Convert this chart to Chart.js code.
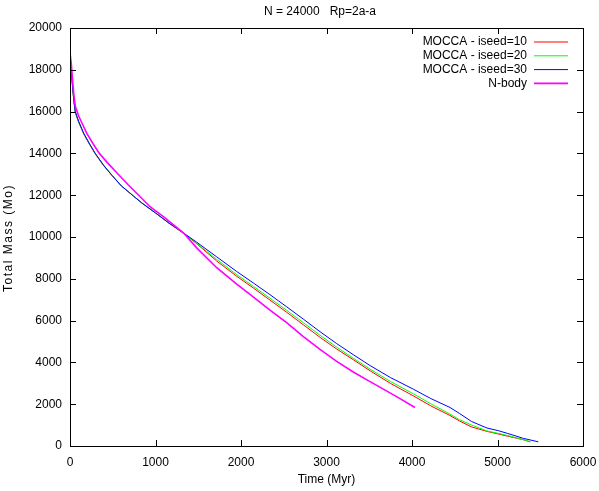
<!DOCTYPE html>
<html>
<head>
<meta charset="utf-8">
<script src="https://cdn.jsdelivr.net/npm/chart.js@4.4.0/dist/chart.umd.min.js"></script>
<style>
	html, body { margin: 0; padding: 0; background: #fff; }
</style>
</head>
<body>
<canvas id="myChart" width="599" height="491"></canvas>
<script>
// Dades llegides del gràfic (temps en Myr, massa total en Mo)
let temps10 = [0, 15, 30, 45, 62, 100, 160, 230, 296, 390, 491, 600, 745, 842, 1000, 1160, 1326, 1482, 1716, 1950, 2144, 2339, 2534, 2729, 2924, 3119, 3313, 3509, 3750, 4015, 4220, 4444, 4554, 4698, 4877, 5010, 5119, 5302, 5380];
let massa10 = [18650, 17950, 17150, 16500, 15950, 15500, 14930, 14420, 13970, 13430, 12940, 12440, 11950, 11620, 11150, 10650, 10180, 9680, 8850, 8120, 7560, 6980, 6400, 5800, 5200, 4640, 4130, 3600, 2990, 2400, 1920, 1460, 1200, 910, 700, 573, 470, 302, 200];

let temps20 = [0, 15, 30, 45, 62, 100, 160, 230, 296, 390, 491, 600, 745, 842, 1000, 1160, 1326, 1482, 1716, 1950, 2144, 2339, 2534, 2729, 2924, 3119, 3313, 3509, 3750, 4015, 4220, 4444, 4554, 4698, 4877, 5010, 5119, 5302, 5390];
let massa20 = [18650, 17950, 17150, 16500, 15970, 15520, 14950, 14440, 13990, 13450, 12960, 12450, 11960, 11630, 11160, 10660, 10190, 9700, 8930, 8200, 7640, 7070, 6490, 5900, 5300, 4730, 4200, 3680, 3080, 2500, 2020, 1527, 1260, 1000, 720, 605, 500, 302, 200];

let temps30 = [0, 15, 30, 45, 62, 100, 160, 230, 296, 390, 491, 600, 745, 842, 1000, 1160, 1326, 1482, 1716, 1950, 2144, 2339, 2534, 2729, 2924, 3119, 3313, 3509, 3750, 4015, 4220, 4444, 4554, 4698, 4877, 5010, 5119, 5302, 5477];
let massa30 = [18700, 18000, 17200, 16550, 16000, 15550, 14970, 14450, 14000, 13450, 12950, 12450, 11950, 11620, 11150, 10660, 10200, 9750, 9050, 8350, 7800, 7240, 6660, 6070, 5470, 4900, 4370, 3850, 3270, 2720, 2270, 1845, 1560, 1170, 860, 732, 601, 366, 200];

let tempsNbody = [0, 15, 30, 45, 62, 100, 195, 270, 343, 450, 550, 680, 803, 936, 1100, 1200, 1326, 1482, 1716, 1950, 2105, 2339, 2534, 2729, 2924, 3119, 3313, 3509, 3665, 3850, 4035];
let massaNbody = [18800, 18300, 17500, 16800, 16250, 15800, 14970, 14460, 14000, 13500, 13060, 12500, 12000, 11450, 10950, 10620, 10200, 9480, 8530, 7750, 7255, 6500, 5900, 5230, 4620, 4050, 3540, 3080, 2720, 2290, 1845];

let noms = ["MOCCA - iseed=10", "MOCCA - iseed=20", "MOCCA - iseed=30", "N-body"];
let colors = ["#ff0000", "#00ff00", "#0000ff", "#ff00ff"];

let titol = "N = 24000   Rp=2a-a";
let titolX = "Time (Myr)";
let titolY = "Total Mass (Mo)";

function punts(t, m) {
	let llista = [];
	for (let i in t) {
		llista.push({ x: t[i], y: m[i] });
	}
	return llista;
}

const FONT = "'Liberation Sans', Arial, Helvetica, sans-serif";

// Marc, ticks cap a dins, títols i llegenda a l'estil gnuplot
const marc = {
	id: 'marc',
	afterDatasetsDraw(chart) {
		let ctx = chart.ctx;
		let a = chart.chartArea;
		let xs = chart.scales.x, ys = chart.scales.y;
		let len = 6;
		ctx.save();
		ctx.strokeStyle = '#000';
		ctx.lineWidth = 1;
		ctx.beginPath();
		xs.ticks.forEach((t) => {
			let px = Math.round(xs.getPixelForValue(t.value)) + 0.5;
			ctx.moveTo(px, a.bottom); ctx.lineTo(px, a.bottom - len);
			ctx.moveTo(px, a.top); ctx.lineTo(px, a.top + len);
		});
		ys.ticks.forEach((t) => {
			let py = Math.round(ys.getPixelForValue(t.value)) + 0.5;
			ctx.moveTo(a.left, py); ctx.lineTo(a.left + len, py);
			ctx.moveTo(a.right, py); ctx.lineTo(a.right - len, py);
		});
		ctx.stroke();
		ctx.strokeRect(Math.round(a.left) + 0.5, Math.round(a.top) + 0.5, Math.round(a.right - a.left), Math.round(a.bottom - a.top));

		ctx.font = '12px ' + FONT;
		ctx.fillStyle = '#000';
		ctx.textBaseline = 'middle';

		// Títol
		ctx.textAlign = 'center';
		ctx.fillText(titol, 320, 12);

		// Títol de l'eix Y, girat
		ctx.save();
		ctx.translate(9, 238);
		ctx.rotate(-Math.PI / 2);
		if ('letterSpacing' in ctx) ctx.letterSpacing = '1.5px';
		ctx.fillText(titolY, 0, 0);
		ctx.restore();

		// Llegenda dins del gràfic
		ctx.textAlign = 'right';
		chart.data.datasets.forEach((ds, i) => {
			let y = a.top + 14 + i * 13.8;
			ctx.fillText(ds.label, a.right - 56, y);
			ctx.strokeStyle = ds.borderColor;
			ctx.lineWidth = ds.borderWidth;
			ctx.beginPath();
			ctx.moveTo(a.right - 49, y);
			ctx.lineTo(a.right - 15, y);
			ctx.stroke();
		});
		ctx.restore();
	}
};

const data = {
	datasets: [
		{ label: noms[0], data: punts(temps10, massa10), borderColor: colors[0], borderWidth: 1, order: 4 },
		{ label: noms[1], data: punts(temps20, massa20), borderColor: colors[1], borderWidth: 1, order: 3 },
		{ label: noms[2], data: punts(temps30, massa30), borderColor: colors[2], borderWidth: 1, order: 2 },
		{ label: noms[3], data: punts(tempsNbody, massaNbody), borderColor: colors[3], borderWidth: 1.6, order: 1 }
	]
};

const config = {
	type: 'line',
	data: data,
	plugins: [marc],
	options: {
		responsive: false,
		animation: false,
		layout: { padding: { left: 0, right: 16, top: 28, bottom: 0 } },
		elements: { point: { radius: 0 }, line: { tension: 0, fill: false } },
		plugins: {
			legend: { display: false },
			tooltip: { enabled: false },
			title: { display: false }
		},
		scales: {
			x: {
				type: 'linear',
				min: 0, max: 6000,
				ticks: { stepSize: 1000, color: '#000', padding: 9, maxRotation: 0, font: { family: FONT, size: 12 }, callback: (v) => String(v) },
				grid: { display: false, drawTicks: false },
				border: { display: false },
				title: { display: true, text: titolX, color: '#000', font: { family: FONT, size: 12 }, padding: { top: 0, bottom: 4 } },
				afterFit: (scale) => {
					scale.height = 45;
					scale.paddingLeft = 0;
					scale.paddingRight = 0;
				}
			},
			y: {
				type: 'linear',
				min: 0, max: 20000,
				ticks: { stepSize: 2000, color: '#000', padding: 8, font: { family: FONT, size: 12 }, callback: (v) => String(v) },
				grid: { display: false, drawTicks: false },
				border: { display: false },
				afterFit: (scale) => {
					scale.width = 70;
					scale.paddingTop = 0;
					scale.paddingBottom = 0;
				}
			}
		}
	}
};

let myChart = new Chart(document.getElementById('myChart'), config);
</script>
</body>
</html>
